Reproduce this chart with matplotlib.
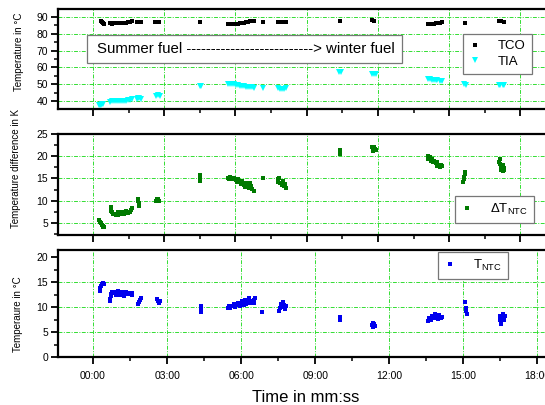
import matplotlib
matplotlib.use("Agg")
import matplotlib.pyplot as plt
from matplotlib.ticker import MultipleLocator, FuncFormatter
from matplotlib.patches import Rectangle

plt.rcParams["font.family"] = ["Liberation Sans", "DejaVu Sans"]
plt.rcParams["mathtext.fontset"] = "custom"
plt.rcParams["mathtext.rm"] = "Liberation Sans"

# time in minutes (upper two panels)
tco_time = [0.34, 0.38, 0.42, 0.46,
            0.72, 0.80, 0.88, 0.97, 1.05, 1.14, 1.22, 1.30, 1.39, 1.47, 1.56, 1.64,
            1.85, 1.94, 2.02, 2.61, 2.69, 2.78, 4.50,
            5.68, 5.76, 5.85, 5.93, 6.02, 6.10, 6.18, 6.27, 6.35, 6.44, 6.52, 6.60, 6.69, 6.77,
            7.15, 7.78, 7.87, 7.95, 8.04, 8.12, 10.39, 11.74, 11.82,
            14.09, 14.18, 14.26, 14.35, 14.43, 14.51, 14.60, 14.68, 15.65,
            17.12, 17.20, 17.29]
tco = [87.6, 87.0, 86.2, 85.6,
       86.2, 86.0, 86.2, 86.3, 86.2, 86.4, 86.3, 86.5, 86.7, 87.2, 87.3, 87.4,
       87.2, 87.1, 87.2, 87.2, 87.1, 87.2, 87.2,
       85.8, 85.8, 85.9, 86.0, 86.1, 86.1, 86.2, 86.3, 86.5, 86.8, 87.2, 87.5, 87.6, 87.4,
       87.3, 87.0, 87.1, 87.0, 87.1, 87.0, 87.6, 88.2, 87.8,
       85.6, 85.7, 85.8, 86.0, 86.2, 86.4, 86.6, 86.8, 86.5,
       87.6, 87.5, 87.3]

tia_time = [0.25, 0.29, 0.34, 0.38, 0.42,
            0.72, 0.80, 0.88, 0.97, 1.05, 1.14, 1.22, 1.30, 1.39, 1.47, 1.56, 1.64,
            1.85, 1.90, 1.94, 2.02, 2.65, 2.73, 2.82, 4.50, 4.55,
            5.68, 5.76, 5.85, 5.93, 6.02, 6.10, 6.18, 6.27, 6.35, 6.44, 6.52, 6.60, 6.69, 6.77,
            7.15, 7.78, 7.87, 7.95, 8.04, 8.12, 10.35, 10.43, 11.74, 11.82, 11.90,
            14.09, 14.18, 14.26, 14.35, 14.43, 14.51, 14.60, 14.68, 15.61, 15.69,
            17.08, 17.16, 17.25, 17.33]
tia = [37.8, 37.6, 37.7, 37.9, 38.0,
       39.6, 39.7, 39.8, 39.9, 40.0, 40.0, 40.0, 40.1, 40.2, 40.3, 40.6, 41.0,
       41.0, 42.0, 41.6, 41.2, 43.0, 43.3, 43.1, 49.2, 48.8,
       50.0, 50.1, 50.0, 49.9, 49.8, 49.6, 49.2, 48.9, 48.8, 48.6, 48.4, 48.2, 48.5, 48.0,
       47.9, 47.6, 47.4, 47.3, 47.4, 47.6, 57.3, 57.0, 56.2, 55.9, 55.8,
       53.2, 52.9, 52.6, 52.4, 52.3, 52.2, 52.0, 51.8, 49.9, 49.7,
       49.5, 49.4, 49.4, 49.6]

dt_time = [0.25, 0.29, 0.34, 0.38, 0.42, 0.46, 0.42,
           0.76, 0.76, 0.76, 0.80, 0.84, 0.88, 0.97, 1.05, 1.14, 1.22, 1.30, 1.39, 1.47,
           1.56, 1.60, 1.64, 1.05, 1.22, 1.39,
           1.90, 1.90, 1.94, 1.94, 2.65, 2.69, 2.73, 2.78,
           4.52, 4.52, 4.52, 4.52,
           5.68, 5.72, 5.76, 5.85, 5.93, 6.02, 6.06, 6.10, 6.18, 6.22, 6.27, 6.35, 6.40,
           6.44, 6.52, 6.56, 6.60, 6.66, 6.72, 6.77,
           7.15, 7.78, 7.78, 7.83, 7.87, 7.95, 8.00, 8.04, 8.12, 8.08,
           10.39, 10.39, 10.39, 11.74, 11.78, 11.82, 11.86, 11.90, 11.78,
           14.09, 14.13, 14.18, 14.22, 14.26, 14.30, 14.35, 14.43, 14.47, 14.51, 14.56,
           14.60, 14.64, 14.68,
           15.65, 15.65, 15.61, 15.61, 15.57,
           17.12, 17.16, 17.16, 17.20, 17.20, 17.25, 17.25, 17.29, 17.33]
dt_ntc = [5.6, 5.3, 5.0, 4.6, 4.3, 4.2, 4.0,
          8.7, 8.2, 7.7, 7.4, 7.1, 7.0, 6.9, 6.9, 7.0, 7.1, 7.1, 7.2, 7.2,
          7.4, 7.9, 8.3, 7.4, 7.5, 7.6,
          10.4, 9.9, 9.4, 8.9, 10.0, 10.5, 10.3, 10.0,
          15.8, 15.3, 14.8, 14.4,
          15.2, 14.8, 15.3, 14.9, 15.0, 14.6, 14.2, 14.8, 14.3, 13.7, 14.4, 13.5, 13.0,
          14.0, 13.6, 12.8, 13.9, 13.3, 12.6, 12.3,
          15.0, 14.8, 14.2, 15.2, 14.0, 13.6, 14.4, 13.4, 12.9, 13.8,
          21.3, 20.8, 20.4, 22.0, 21.6, 22.1, 21.6, 21.5, 21.2,
          20.0, 19.4, 19.8, 19.0, 19.3, 18.6, 18.9, 18.4, 17.9, 18.6, 18.0,
          17.5, 18.1, 17.8,
          16.4, 15.9, 15.3, 14.8, 14.1,
          18.8, 19.3, 18.3, 17.6, 17.0, 18.0, 16.6, 17.4, 16.8]

# time in minutes (lower panel)
ntc_time = [0.28, 0.28, 0.32, 0.36, 0.40, 0.45,
            0.69, 0.69, 0.73, 0.73, 0.77, 0.81, 0.85, 0.93, 1.01, 1.09, 1.18, 1.26, 1.34,
            1.42, 1.50, 1.58, 1.58, 0.93, 1.09, 1.26,
            1.82, 1.86, 1.90, 1.95, 2.59, 2.63, 2.67, 2.71,
            4.38, 4.38, 4.38,
            5.47, 5.51, 5.55, 5.63, 5.72, 5.76, 5.80, 5.88, 5.96, 6.00, 6.04, 6.12, 6.16,
            6.20, 6.28, 6.32, 6.36, 6.45, 6.53, 6.53, 6.57,
            6.85, 7.54, 7.58, 7.62, 7.66, 7.70, 7.74, 7.78, 7.82,
            10.01, 10.01, 11.31, 11.35, 11.39, 11.43, 11.35,
            13.58, 13.62, 13.70, 13.74, 13.82, 13.86, 13.90, 13.98, 14.02, 14.10, 14.15,
            15.06, 15.10, 15.12, 15.14,
            16.48, 16.50, 16.54, 16.58, 16.62, 16.66, 16.70]
t_ntc = [13.3, 13.8, 14.2, 14.6, 14.9, 14.6,
         11.2, 11.7, 12.2, 12.7, 13.0, 12.8, 13.1, 13.0, 13.2, 12.9, 13.0, 12.7, 13.1,
         12.6, 12.8, 12.4, 12.9, 12.5, 12.4, 12.3,
         10.6, 11.0, 11.5, 11.8, 11.6, 11.2, 10.9, 11.3,
         10.2, 9.6, 9.0,
         9.8, 10.3, 9.9, 10.2, 10.6, 10.0, 10.4, 10.9, 10.2, 10.7, 11.2, 10.5, 11.5,
         10.6, 11.0, 11.8, 10.8, 11.3, 11.4, 10.8, 11.8,
         9.0, 9.3, 9.8, 10.6, 10.1, 11.0, 10.4, 9.7, 10.2,
         8.0, 7.4, 6.5, 6.0, 6.6, 6.2, 6.9,
         7.2, 7.8, 7.4, 8.2, 7.8, 8.7, 8.0, 7.6, 8.4, 7.9, 8.0,
         11.0, 9.8, 9.2, 8.7,
         8.2, 7.4, 6.6, 7.8, 8.6, 7.4, 8.2]

W, H = 545, 405
fig = plt.figure(figsize=(W / 100, H / 100), dpi=100)


def box(left, top, right, bottom):
    return [left / W, 1 - bottom / H, (right - left) / W, (bottom - top) / H]


ax1 = fig.add_axes(box(58, 9, 556, 109))
ax2 = fig.add_axes(box(58, 134, 556, 235))
ax3 = fig.add_axes(box(58, 250, 562, 357))

grid_kw = dict(color="#33dd33", linestyle=(0, (4, 1.5, 1, 1.5)), linewidth=0.7)


def mmss(v, pos):
    m = int(round(v * 60)) // 60
    s = int(round(v * 60)) % 60
    return f"{m:02d}:{s:02d}"


for ax in (ax1, ax2, ax3):
    for side in ("left", "bottom", "top"):
        ax.spines[side].set_linewidth(1.6)
    ax.spines["right"].set_visible(False)
    ax.xaxis.set_major_locator(MultipleLocator(3))
    ax.xaxis.set_minor_locator(MultipleLocator(1.5))
    ax.xaxis.set_major_formatter(FuncFormatter(mmss))
    ax.tick_params(which="major", direction="out", length=5, width=1.3, labelsize=7.5, pad=2)
    ax.tick_params(axis="x", which="major", pad=5)
    ax.tick_params(which="minor", direction="out", length=3, width=1.1)
    ax.grid(True, which="major", **grid_kw)
    ax.set_axisbelow(True)

ax1.set_xlim(-1.47, 19.5)
ax2.set_xlim(-1.47, 19.5)
ax3.set_xlim(-1.42, 19.0)
ax1.tick_params(labelbottom=False)
ax2.tick_params(labelbottom=False)

# top panel: TCO and TIA
ax1.plot(tco_time, tco, "s", color="black", markersize=2.8, markeredgewidth=0, label="TCO")
ax1.plot(tia_time, tia, "v", color="cyan", markersize=4.5, markeredgewidth=0, label="TIA")
ax1.set_ylim(35.2, 94.8)
ax1.yaxis.set_minor_locator(MultipleLocator(5))
ax1.set_yticks(range(40, 91, 10))

# middle panel: temperature difference
ax2.plot(dt_time, dt_ntc, "s", color="#007a00", markersize=3.4, markeredgewidth=0,
         label=r"$\Delta$T$_{\mathrm{NTC}}$")
ax2.set_ylim(2.3, 25)
ax2.set_yticks([5, 10, 15, 20, 25])
ax2.yaxis.set_minor_locator(MultipleLocator(2.5))

# bottom panel: NTC temperature
ax3.plot(ntc_time, t_ntc, "s", color="#0000ee", markersize=3.4, markeredgewidth=0,
         label=r"T$_{\mathrm{NTC}}$")
ax3.set_ylim(0, 21.4)
ax3.set_yticks([0, 5, 10, 15, 20])
ax3.yaxis.set_minor_locator(MultipleLocator(2.5))
ax3.yaxis.get_gridlines()[-1].set_visible(False)

leg_kw = dict(fancybox=False, edgecolor="#777777", framealpha=1, fontsize=9.5,
              handlelength=0.9, handletextpad=1.3, borderpad=0.45, borderaxespad=0,
              bbox_transform=fig.transFigure, loc="upper left")
l1 = ax1.legend(bbox_to_anchor=(463 / W, 1 - 34 / H), labelspacing=0.25, **leg_kw)
l2 = ax2.legend(bbox_to_anchor=(455 / W, 1 - 196 / H), **leg_kw)
l3 = ax3.legend(bbox_to_anchor=(438 / W, 1 - 252 / H), **leg_kw)
for leg in (l1, l2, l3):
    leg.get_frame().set_linewidth(0.9)

# annotation box across the top panel
fig.patches.append(Rectangle((87 / W, 1 - 63 / H), 315 / W, 28 / H, transform=fig.transFigure,
                             facecolor="white", edgecolor="#777777", linewidth=0.9, zorder=5))
fig.text(97 / W, 1 - 49 / H, "Summer fuel " + "-" * 26 + "> winter fuel",
         fontsize=10.8, va="center", ha="left", zorder=6)

fig.text(19 / W, 1 - 52 / H, "Temperature in °C", rotation=90, fontsize=7,
         ha="center", va="center")
fig.text(16 / W, 1 - 168 / H, "Temperature difference in K", rotation=90, fontsize=7,
         ha="center", va="center")
fig.text(18 / W, 1 - 314 / H, "Temperaure in °C", rotation=90, fontsize=7,
         ha="center", va="center")
fig.text(306 / W, 1 - 402 / H, "Time in mm:ss", fontsize=12, ha="center", va="baseline")

fig.savefig("out.png", dpi=100)
